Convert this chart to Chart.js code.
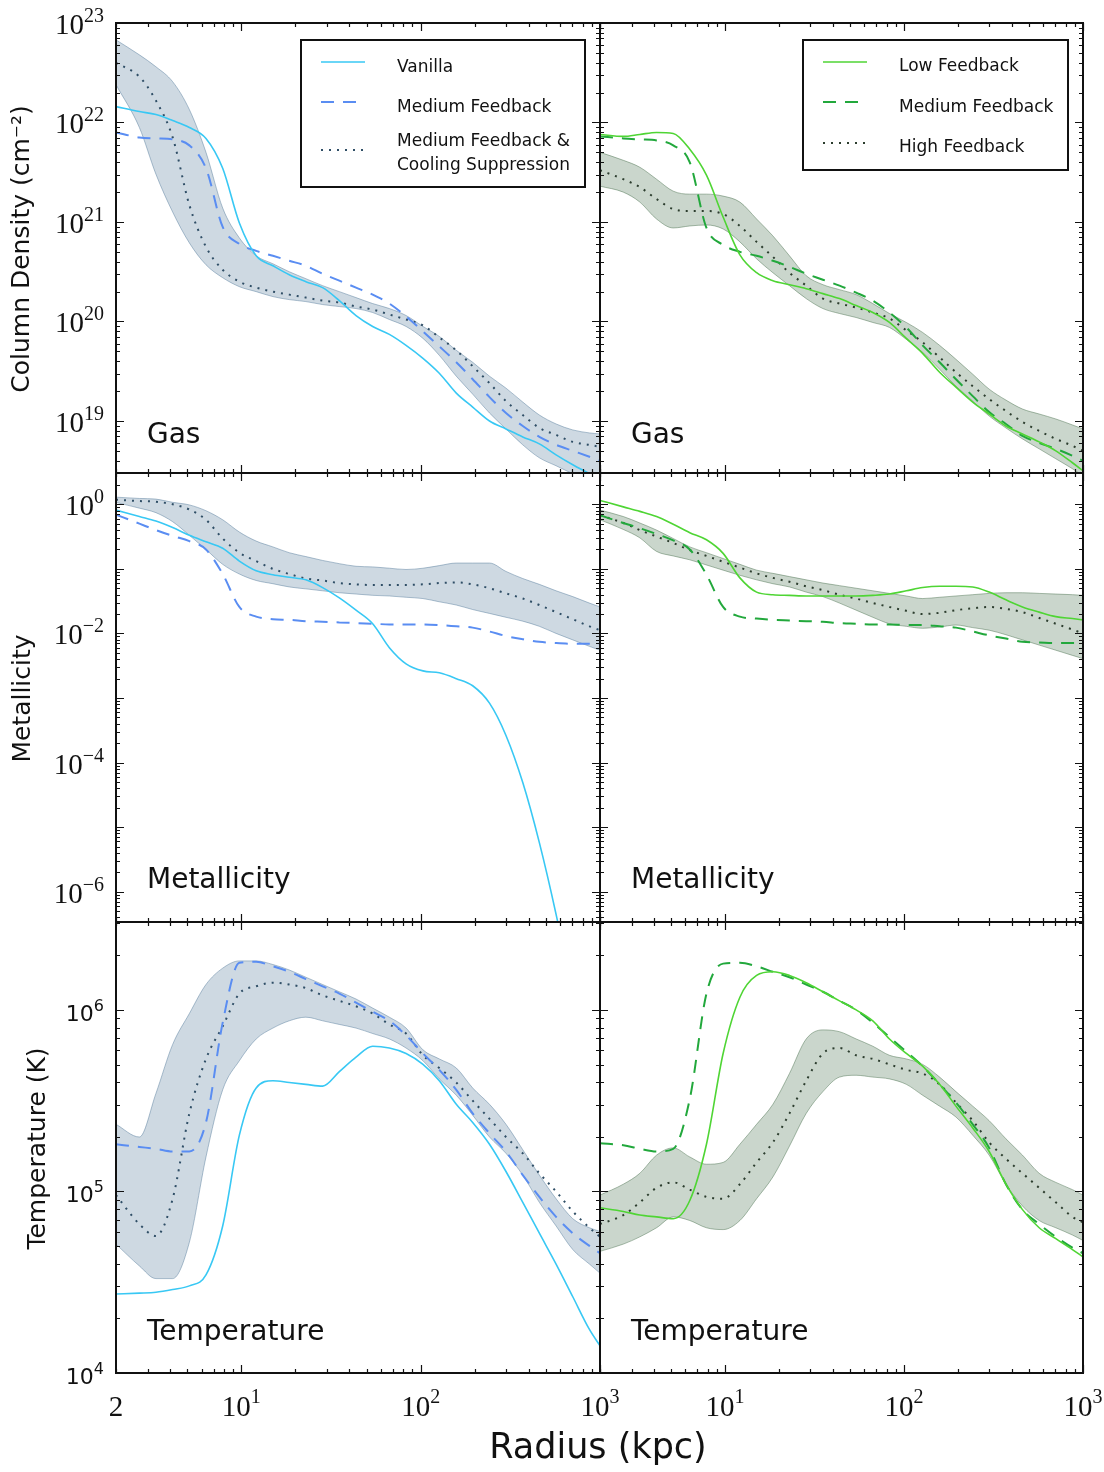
<!DOCTYPE html>
<html>
<head>
<meta charset="utf-8">
<script src="https://cdn.jsdelivr.net/npm/chart.js@4.4.1/dist/chart.umd.min.js"></script>
<style>
  html, body { margin: 0; padding: 0; background: #fff; }
  #wrap { position: relative; width: 1104px; height: 1472px; }
  #wrap canvas { position: absolute; left: 0; top: 0; }
</style>
</head>
<body>
<div id="wrap"></div>
<script>
// radius grid (kpc), shared by every panel
const radius = [2, 2.7, 3.34, 4.14, 5.13, 6.35, 7.87, 9.75, 12.1, 15.0, 18.5, 22.9, 28.4, 35.2, 43.6,
  54.0, 66.9, 82.9, 103, 127, 158, 195, 242, 299, 371, 459, 569, 705, 873, 1000];

// column density, log10 (cm^-2)
const gasVanilla = [22.16, 22.11, 22.08, 22.02, 21.95, 21.84, 21.54, 20.99, 20.66, 20.56, 20.47, 20.40, 20.34, 20.21, 20.06, 19.95, 19.87, 19.76, 19.63, 19.48, 19.28, 19.14, 19.00, 18.92, 18.84, 18.77, 18.66, 18.56, 18.47, 18.41];
const gasMed = [21.90, 21.85, 21.84, 21.83, 21.77, 21.54, 20.95, 20.78, 20.71, 20.66, 20.61, 20.56, 20.48, 20.41, 20.34, 20.27, 20.18, 20.05, 19.90, 19.75, 19.59, 19.42, 19.24, 19.08, 18.95, 18.84, 18.76, 18.70, 18.64, 18.60];
const gasMedCool = [22.60, 22.46, 22.22, 21.85, 21.17, 20.75, 20.52, 20.40, 20.34, 20.30, 20.27, 20.24, 20.21, 20.19, 20.15, 20.12, 20.07, 20.02, 19.96, 19.84, 19.71, 19.55, 19.38, 19.20, 19.06, 18.93, 18.86, 18.79, 18.76, 18.74];
const gasMedCoolHi = [22.83, 22.68, 22.56, 22.41, 22.13, 21.70, 21.14, 20.84, 20.66, 20.58, 20.50, 20.43, 20.36, 20.30, 20.24, 20.18, 20.13, 20.06, 19.95, 19.85, 19.71, 19.59, 19.45, 19.33, 19.19, 19.06, 18.97, 18.91, 18.88, 18.87];
const gasMedCoolLo = [22.38, 21.95, 21.48, 21.10, 20.79, 20.57, 20.44, 20.35, 20.30, 20.25, 20.22, 20.20, 20.17, 20.15, 20.13, 20.09, 20.02, 19.95, 19.83, 19.66, 19.45, 19.27, 19.08, 18.92, 18.76, 18.63, 18.55, 18.47, 18.40, 18.35];
const gasLow = [21.88, 21.86, 21.88, 21.90, 21.89, 21.73, 21.47, 21.05, 20.67, 20.49, 20.41, 20.37, 20.33, 20.28, 20.23, 20.16, 20.09, 19.99, 19.83, 19.68, 19.49, 19.34, 19.19, 19.07, 18.95, 18.87, 18.79, 18.70, 18.58, 18.50];
const gasMedR = [21.86, 21.84, 21.83, 21.82, 21.77, 21.60, 20.94, 20.77, 20.70, 20.66, 20.61, 20.55, 20.48, 20.42, 20.36, 20.29, 20.21, 20.09, 19.94, 19.76, 19.59, 19.42, 19.25, 19.09, 18.97, 18.85, 18.78, 18.72, 18.65, 18.60];
const gasHigh = [21.52, 21.43, 21.35, 21.23, 21.13, 21.11, 21.11, 21.08, 20.96, 20.80, 20.65, 20.49, 20.36, 20.23, 20.18, 20.14, 20.09, 20.03, 19.91, 19.79, 19.64, 19.49, 19.35, 19.22, 19.10, 18.99, 18.90, 18.82, 18.75, 18.70];
const gasHighHi = [21.70, 21.62, 21.55, 21.43, 21.31, 21.28, 21.28, 21.26, 21.20, 21.03, 20.86, 20.66, 20.46, 20.37, 20.32, 20.27, 20.18, 20.08, 19.99, 19.89, 19.76, 19.62, 19.47, 19.32, 19.21, 19.12, 19.07, 19.02, 18.96, 18.92];
const gasHighLo = [21.36, 21.30, 21.20, 21.03, 20.94, 20.96, 20.97, 20.93, 20.80, 20.63, 20.49, 20.36, 20.23, 20.13, 20.08, 20.04, 19.99, 19.94, 19.82, 19.69, 19.52, 19.35, 19.20, 19.05, 18.93, 18.82, 18.72, 18.62, 18.52, 18.45];

// metallicity, log10
const metVanilla = [-0.09, -0.19, -0.26, -0.36, -0.48, -0.58, -0.68, -0.88, -1.03, -1.09, -1.13, -1.17, -1.29, -1.45, -1.64, -1.85, -2.22, -2.47, -2.58, -2.61, -2.70, -2.81, -3.08, -3.58, -4.31, -5.24, -6.35, -7.6, -8.8, -9.5];
const metMed = [-0.16, -0.30, -0.40, -0.49, -0.57, -0.70, -1.08, -1.59, -1.74, -1.78, -1.79, -1.81, -1.82, -1.83, -1.84, -1.85, -1.86, -1.86, -1.86, -1.87, -1.89, -1.91, -1.97, -2.04, -2.09, -2.13, -2.15, -2.16, -2.16, -2.16];
const metMedCool = [0.07, 0.05, 0.04, 0.00, -0.08, -0.24, -0.53, -0.75, -0.88, -1.00, -1.08, -1.15, -1.18, -1.22, -1.24, -1.25, -1.25, -1.25, -1.24, -1.22, -1.21, -1.24, -1.30, -1.38, -1.46, -1.56, -1.67, -1.78, -1.89, -1.95];
const metMedCoolHi = [0.11, 0.09, 0.08, 0.03, -0.01, -0.10, -0.24, -0.43, -0.57, -0.66, -0.75, -0.81, -0.87, -0.92, -0.96, -0.97, -0.99, -1.01, -0.99, -0.95, -0.91, -0.91, -0.91, -1.04, -1.15, -1.24, -1.34, -1.43, -1.53, -1.59];
const metMedCoolLo = [0.03, -0.06, -0.13, -0.27, -0.48, -0.70, -0.93, -1.08, -1.18, -1.23, -1.28, -1.31, -1.34, -1.37, -1.39, -1.41, -1.42, -1.44, -1.46, -1.51, -1.56, -1.63, -1.69, -1.75, -1.81, -1.89, -2.00, -2.10, -2.20, -2.26];
const metLow = [0.06, -0.04, -0.11, -0.19, -0.31, -0.44, -0.55, -0.76, -1.14, -1.36, -1.40, -1.41, -1.42, -1.42, -1.42, -1.42, -1.41, -1.39, -1.34, -1.29, -1.27, -1.27, -1.28, -1.36, -1.48, -1.59, -1.67, -1.74, -1.77, -1.79];
const metMedR = [-0.17, -0.29, -0.37, -0.46, -0.56, -0.70, -1.09, -1.59, -1.74, -1.77, -1.79, -1.80, -1.81, -1.82, -1.84, -1.85, -1.86, -1.86, -1.87, -1.87, -1.89, -1.91, -1.97, -2.03, -2.08, -2.13, -2.14, -2.15, -2.15, -2.15];
const metHigh = [-0.17, -0.29, -0.40, -0.50, -0.60, -0.71, -0.80, -0.89, -0.98, -1.07, -1.14, -1.20, -1.27, -1.33, -1.40, -1.46, -1.53, -1.59, -1.65, -1.70, -1.68, -1.64, -1.61, -1.59, -1.62, -1.67, -1.76, -1.85, -1.94, -2.00];
const metHighHi = [-0.09, -0.19, -0.29, -0.40, -0.53, -0.66, -0.75, -0.84, -0.93, -1.02, -1.07, -1.12, -1.17, -1.22, -1.26, -1.30, -1.34, -1.38, -1.42, -1.46, -1.44, -1.42, -1.40, -1.38, -1.37, -1.37, -1.38, -1.39, -1.40, -1.41];
const metHighLo = [-0.24, -0.39, -0.52, -0.73, -0.80, -0.86, -0.94, -1.02, -1.10, -1.17, -1.23, -1.28, -1.36, -1.43, -1.53, -1.64, -1.75, -1.85, -1.89, -1.92, -1.90, -1.87, -1.91, -1.95, -2.02, -2.10, -2.18, -2.26, -2.34, -2.39];

// temperature, log10 (K)
const tempVanilla = [4.435, 4.44, 4.445, 4.46, 4.48, 4.54, 4.81, 5.31, 5.57, 5.61, 5.60, 5.59, 5.58, 5.66, 5.74, 5.80, 5.79, 5.76, 5.70, 5.61, 5.48, 5.38, 5.26, 5.11, 4.94, 4.77, 4.60, 4.42, 4.24, 4.15];
const tempMed = [5.26, 5.245, 5.235, 5.22, 5.22, 5.38, 5.93, 6.26, 6.265, 6.24, 6.21, 6.17, 6.13, 6.09, 6.04, 5.99, 5.94, 5.86, 5.76, 5.67, 5.56, 5.43, 5.32, 5.22, 5.09, 4.97, 4.86, 4.77, 4.70, 4.66];
const tempMedCool = [4.98, 4.82, 4.755, 4.96, 5.43, 5.73, 5.91, 6.09, 6.13, 6.15, 6.14, 6.12, 6.08, 6.05, 6.02, 5.98, 5.92, 5.87, 5.75, 5.68, 5.60, 5.50, 5.40, 5.30, 5.21, 5.10, 5.00, 4.89, 4.80, 4.75];
const tempMedCoolHi = [5.37, 5.30, 5.54, 5.81, 5.98, 6.14, 6.23, 6.27, 6.27, 6.25, 6.22, 6.18, 6.14, 6.10, 6.06, 6.01, 5.96, 5.90, 5.78, 5.73, 5.68, 5.57, 5.48, 5.37, 5.23, 5.09, 4.96, 4.85, 4.80, 4.78];
const tempMedCoolLo = [4.71, 4.59, 4.52, 4.52, 4.72, 5.19, 5.56, 5.72, 5.84, 5.90, 5.94, 5.96, 5.94, 5.92, 5.90, 5.87, 5.84, 5.79, 5.72, 5.62, 5.53, 5.42, 5.30, 5.21, 5.09, 4.94, 4.81, 4.68, 4.60, 4.55];
const tempLow = [4.91, 4.89, 4.87, 4.86, 4.85, 4.95, 5.26, 5.76, 6.07, 6.19, 6.21, 6.19, 6.15, 6.10, 6.05, 6.00, 5.94, 5.84, 5.76, 5.69, 5.59, 5.47, 5.35, 5.22, 5.04, 4.90, 4.80, 4.74, 4.68, 4.64];
const tempMedR = [5.265, 5.255, 5.235, 5.22, 5.235, 5.51, 6.09, 6.255, 6.26, 6.24, 6.21, 6.18, 6.14, 6.10, 6.05, 6.00, 5.93, 5.85, 5.77, 5.69, 5.59, 5.49, 5.37, 5.24, 5.04, 4.90, 4.82, 4.75, 4.69, 4.66];
const tempHigh = [4.82, 4.87, 4.94, 5.02, 5.05, 5.01, 4.97, 4.96, 5.04, 5.16, 5.27, 5.43, 5.61, 5.76, 5.79, 5.75, 5.73, 5.70, 5.67, 5.65, 5.59, 5.49, 5.39, 5.27, 5.18, 5.10, 5.02, 4.94, 4.86, 4.83];
const tempHighHi = [4.98, 5.04, 5.10, 5.20, 5.24, 5.19, 5.15, 5.16, 5.26, 5.37, 5.48, 5.65, 5.84, 5.89, 5.88, 5.84, 5.80, 5.75, 5.73, 5.70, 5.63, 5.55, 5.47, 5.39, 5.29, 5.20, 5.10, 5.05, 5.01, 4.98];
const tempHighLo = [4.67, 4.71, 4.75, 4.80, 4.86, 4.84, 4.80, 4.79, 4.84, 4.96, 5.08, 5.25, 5.43, 5.55, 5.63, 5.64, 5.63, 5.62, 5.59, 5.53, 5.47, 5.41, 5.31, 5.20, 5.04, 4.92, 4.84, 4.80, 4.76, 4.73];

// tick label exponents
const gasTicks = [19, 20, 21, 22, 23];
const metTicks = [0, -2, -4, -6];
const tempTicks = [4, 5, 6];
const xTicksLeft = [1, 2, 3];
const xTicksRight = [1, 2, 3];

const leftNames = ['Vanilla', 'Medium Feedback', ['Medium Feedback &', 'Cooling Suppression']];
const rightNames = ['Low Feedback', 'Medium Feedback', 'High Feedback'];

const serif = '"Liberation Serif", "DejaVu Serif", serif';
const sans = '"DejaVu Sans", sans-serif';

const blueStyles = [
  { color: '#38c8f4', width: 1.6, dash: [] },
  { color: '#5a8df2', width: 2, dash: [13, 9] },
  { color: '#2f4e66', width: 2, dash: [2, 6] }
];
const greenStyles = [
  { color: '#4fd534', width: 1.6, dash: [] },
  { color: '#22a83c', width: 2, dash: [13, 9] },
  { color: '#2c3d2e', width: 2, dash: [2, 6] }
];
const blueBand = { fill: 'rgba(78,118,150,0.28)', edge: 'rgba(78,118,150,0.45)' };
const greenBand = { fill: 'rgba(66,106,72,0.28)', edge: 'rgba(66,106,72,0.45)' };

const cols = [{ left: 116, right: 600 }, { left: 600, right: 1083 }];
const rows = [
  { top: 23, bottom: 473, min: 3e18, max: 1e23, ticks: gasTicks, fam: serif, title: 'Column Density (cm\u207B\u00B2)', tx: 22, tag: 'Gas', tagY: 443 },
  { top: 473, bottom: 922, min: 3.4e-7, max: 3.05, ticks: metTicks, fam: serif, title: 'Metallicity', tx: 23, tag: 'Metallicity', tagY: 888 },
  { top: 922, bottom: 1373, min: 1e4, max: 3.05e6, ticks: tempTicks, fam: sans, title: 'Temperature (K)', tx: 38, tag: 'Temperature', tagY: 1340 }
];

function pts(vals) {
  return radius.map((r, i) => ({ x: r, y: Math.pow(10, vals[i]) }));
}

function powLabel(ctx, exp, x, y, align, fam, size, expSize, rise) {
  const e = String(exp).replace('-', '\u2212');
  ctx.font = size + 'px ' + fam;
  const w1 = ctx.measureText('10').width;
  ctx.font = expSize + 'px ' + fam;
  const w2 = ctx.measureText(e).width;
  const x0 = align === 'right' ? x - w1 - w2 : x - (w1 + w2) / 2;
  ctx.textAlign = 'left';
  ctx.textBaseline = 'alphabetic';
  ctx.font = size + 'px ' + fam;
  ctx.fillText('10', x0, y);
  ctx.font = expSize + 'px ' + fam;
  ctx.fillText(e, x0 + w1, y - rise);
}

function sample(ctx, st, x1, x2, y) {
  ctx.save();
  ctx.strokeStyle = st.color;
  ctx.lineWidth = st.width;
  ctx.setLineDash(st.dash);
  ctx.beginPath();
  ctx.moveTo(x1, y);
  ctx.lineTo(x2, y);
  ctx.stroke();
  ctx.restore();
}

const framePlugin = {
  id: 'frame',
  afterDraw(chart, args, o) {
    const { ctx, chartArea: a } = chart;
    const xs = chart.scales.x, ys = chart.scales.y;
    ctx.save();
    ctx.strokeStyle = '#111';
    ctx.fillStyle = '#111';
    ctx.lineWidth = 1.2;
    ctx.beginPath();
    // x ticks, top and bottom, pointing in
    for (const d of [1, 10, 100, 1000]) {
      for (let m = 1; m <= 9; m++) {
        const v = m * d;
        if (v < 2 || v > 1000) continue;
        const px = Math.round(xs.getPixelForValue(v)) + 0.5;
        const len = m === 1 ? 8 : 4;
        ctx.moveTo(px, a.bottom); ctx.lineTo(px, a.bottom - len);
        ctx.moveTo(px, a.top); ctx.lineTo(px, a.top + len);
      }
    }
    // y ticks, left and right
    const lo = Math.floor(Math.log10(ys.min)), hi = Math.ceil(Math.log10(ys.max));
    for (let e = lo; e <= hi; e++) {
      for (let m = 1; m <= 9; m++) {
        const v = m * Math.pow(10, e);
        if (v < ys.min || v > ys.max) continue;
        const py = Math.round(ys.getPixelForValue(v)) + 0.5;
        const len = m === 1 ? 8 : 4;
        ctx.moveTo(a.left, py); ctx.lineTo(a.left + len, py);
        ctx.moveTo(a.right, py); ctx.lineTo(a.right - len, py);
      }
    }
    ctx.stroke();
    ctx.lineWidth = 2;
    ctx.strokeRect(a.left, a.top, a.right - a.left, a.bottom - a.top);

    // panel tag
    ctx.font = '28px ' + sans;
    ctx.textAlign = 'left';
    ctx.textBaseline = 'alphabetic';
    ctx.fillText(o.tag, a.left + 31, o.tagY);

    // y tick labels and title on the left column
    if (o.yLabels) {
      const big = o.fam === sans ? 22 : 29;
      const small = o.fam === sans ? 16 : 20;
      for (const e of o.yLabels) {
        const py = ys.getPixelForValue(Math.pow(10, e));
        powLabel(ctx, e, 104, py + 11, 'right', o.fam, big, small, o.fam === sans ? 10 : 12);
      }
      ctx.save();
      ctx.translate(o.tx, (a.top + a.bottom) / 2 + 1);
      ctx.rotate(-Math.PI / 2);
      ctx.font = '25px ' + sans;
      ctx.textAlign = 'center';
      ctx.textBaseline = 'middle';
      ctx.fillText(o.title, 0, 0);
      ctx.restore();
    }

    // x tick labels on the bottom row
    if (o.xLabels) {
      for (const e of o.xLabels) {
        powLabel(ctx, e, xs.getPixelForValue(Math.pow(10, e)), a.bottom + 43, 'center', serif, 29, 20, 13);
      }
      if (o.showTwo) {
        ctx.font = '29px ' + serif;
        ctx.textAlign = 'center';
        ctx.fillText('2', xs.getPixelForValue(2), a.bottom + 43);
      }
    }
    if (o.xTitle) {
      ctx.font = '35px ' + sans;
      ctx.textAlign = 'center';
      ctx.textBaseline = 'middle';
      ctx.fillText(o.xTitle, 598, 1449);
    }

    // legend box
    if (o.legend) {
      const L = o.legend;
      ctx.fillStyle = '#fff';
      ctx.fillRect(L.x, L.y, L.w, L.h);
      ctx.strokeStyle = '#111';
      ctx.lineWidth = 2;
      ctx.strokeRect(L.x, L.y, L.w, L.h);
      ctx.fillStyle = '#111';
      ctx.font = '17px ' + sans;
      ctx.textAlign = 'left';
      ctx.textBaseline = 'alphabetic';
      L.items.forEach((it, i) => {
        sample(ctx, it.style, L.x + 20, L.x + 64, it.ly);
        const lines = Array.isArray(it.name) ? it.name : [it.name];
        lines.forEach((t, j) => ctx.fillText(t, L.x + 96, it.ty + j * 24));
      });
    }
    ctx.restore();
  }
};

const wrap = document.getElementById('wrap');

function makePanel(ci, ri, series, styles, band) {
  const c = cols[ci], r = rows[ri];
  const cv = document.createElement('canvas');
  cv.width = 1104;
  cv.height = 1472;
  wrap.appendChild(cv);

  const datasets = [
    { data: pts(series[3]), borderColor: band.edge, borderWidth: 1, backgroundColor: band.fill, fill: '+1', order: 2 },
    { data: pts(series[4]), borderColor: band.edge, borderWidth: 1, fill: false, order: 2 }
  ];
  series.slice(0, 3).forEach((s, i) => {
    datasets.push({
      data: pts(s), borderColor: styles[i].color, borderWidth: styles[i].width,
      borderDash: styles[i].dash, fill: false, order: 0
    });
  });

  const frame = {
    tag: r.tag, tagY: r.tagY, fam: r.fam, title: r.title, tx: r.tx,
    yLabels: ci === 0 ? r.ticks : null,
    xLabels: ri === 2 ? (ci === 0 ? xTicksLeft : xTicksRight) : null,
    showTwo: ri === 2 && ci === 0,
    xTitle: ri === 2 && ci === 0 ? 'Radius (kpc)' : null,
    legend: null
  };
  if (ri === 0) {
    frame.legend = ci === 0
      ? { x: 301, y: 40, w: 284, h: 147, items: [
          { name: leftNames[0], style: styles[0], ly: 62, ty: 72 },
          { name: leftNames[1], style: styles[1], ly: 102, ty: 112 },
          { name: leftNames[2], style: styles[2], ly: 150, ty: 146 } ] }
      : { x: 803, y: 40, w: 265, h: 130, items: [
          { name: rightNames[0], style: styles[0], ly: 62, ty: 71 },
          { name: rightNames[1], style: styles[1], ly: 102, ty: 112 },
          { name: rightNames[2], style: styles[2], ly: 143, ty: 152 } ] };
  }

  new Chart(cv, {
    type: 'line',
    data: { datasets },
    options: {
      responsive: false,
      animation: false,
      layout: { padding: { left: c.left, right: 1104 - c.right, top: r.top, bottom: 1472 - r.bottom } },
      elements: { point: { radius: 0 }, line: { cubicInterpolationMode: 'monotone' } },
      scales: {
        x: { type: 'logarithmic', min: 2, max: 1000, display: false },
        y: { type: 'logarithmic', min: r.min, max: r.max, display: false }
      },
      plugins: { legend: { display: false }, tooltip: { enabled: false }, frame }
    },
    plugins: [framePlugin]
  });
}

makePanel(0, 0, [gasVanilla, gasMed, gasMedCool, gasMedCoolHi, gasMedCoolLo], blueStyles, blueBand);
makePanel(1, 0, [gasLow, gasMedR, gasHigh, gasHighHi, gasHighLo], greenStyles, greenBand);
makePanel(0, 1, [metVanilla, metMed, metMedCool, metMedCoolHi, metMedCoolLo], blueStyles, blueBand);
makePanel(1, 1, [metLow, metMedR, metHigh, metHighHi, metHighLo], greenStyles, greenBand);
makePanel(0, 2, [tempVanilla, tempMed, tempMedCool, tempMedCoolHi, tempMedCoolLo], blueStyles, blueBand);
makePanel(1, 2, [tempLow, tempMedR, tempHigh, tempHighHi, tempHighLo], greenStyles, greenBand);
</script>
</body>
</html>
